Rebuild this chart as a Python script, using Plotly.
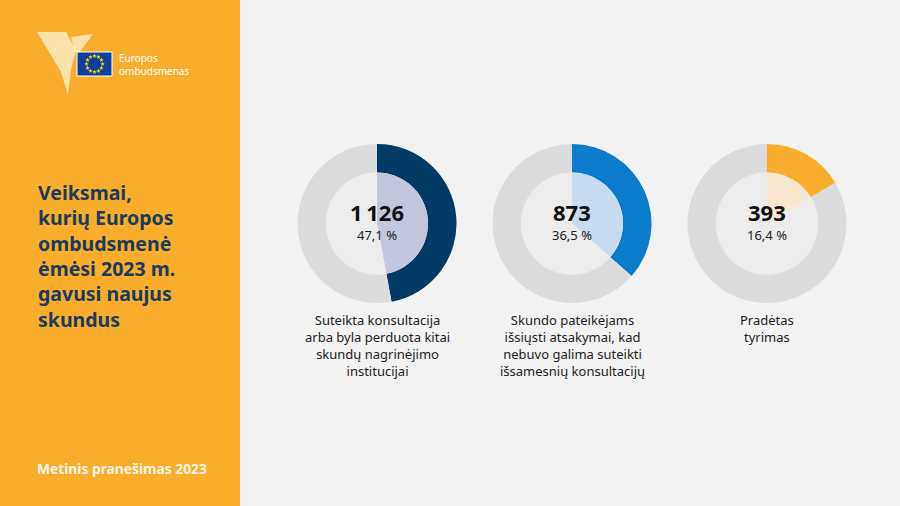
import plotly.graph_objects as go
import math

# ---- data ----
counts = [1126, 873, 393]
count_labels = ["1\u2009126", "873", "393"]
pct_labels = ["47,1 %", "36,5 %", "16,4 %"]
categories = [
    "Suteikta konsultacija<br>arba byla perduota kitai<br>skundų nagrinėjimo<br>institucijai",
    "Skundo pateikėjams<br>išsiųsti atsakymai, kad<br>nebuvo galima suteikti<br>išsamesnių konsultacijų",
    "Pradėtas<br>tyrimas",
]
title_text = "Veiksmai,<br>kurių Europos<br>ombudsmenė<br>ėmėsi 2023 m.<br>gavusi naujus<br>skundus"
footer_text = "Metinis pranešimas 2023"

# ---- styles ----
W, H = 900, 506
ORANGE = "#f8ae2c"
NAVY = "#1b3a5c"
main_colors = ["#013a65", "#0a7ccb", "#f8ae2c"]
light_colors = ["#c3c7db", "#c9dbee", "#f8e7d0"]
RING = "#dcdcdc"
HOLE = "#ececec"
BG = "#f2f2f2"
centers_x = [377, 572, 767]
center_y = 223.5
R_OUT = 79.5
R_IN = 51
FONT = "Noto Sans"

total = sum(counts)

def dom(cx, cy, r):
    return dict(x=[(cx - r) / W, (cx + r) / W], y=[1 - (cy + r) / H, 1 - (cy - r) / H])

fig = go.Figure()
for i, c in enumerate(counts):
    fig.add_trace(go.Pie(
        values=[c, total - c], sort=False, direction="clockwise", rotation=0,
        marker=dict(colors=[main_colors[i], RING], line=dict(width=0)),
        hole=R_IN / R_OUT, textinfo="none", hoverinfo="skip", showlegend=False,
        domain=dom(centers_x[i], center_y, R_OUT),
    ))
    fig.add_trace(go.Pie(
        values=[c, total - c], sort=False, direction="clockwise", rotation=0,
        marker=dict(colors=[light_colors[i], HOLE], line=dict(width=0)),
        textinfo="none", hoverinfo="skip", showlegend=False,
        domain=dom(centers_x[i], center_y, R_IN),
    ))

# hidden pixel axes for decoration
fig.update_xaxes(range=[0, W], visible=False, fixedrange=True)
fig.update_yaxes(range=[H, 0], visible=False, fixedrange=True)

# EU flag stars
sx = [94.5 + 8 * math.cos(2 * math.pi * k / 12) for k in range(12)]
sy = [64 + 8 * math.sin(2 * math.pi * k / 12) for k in range(12)]
fig.add_trace(go.Scatter(x=sx, y=sy, mode="markers", hoverinfo="skip", showlegend=False,
                         marker=dict(symbol="star", size=3.5, color="#ffdd00", line=dict(width=0))))

shapes = [
    dict(type="rect", xref="x", yref="y", x0=0, x1=240, y0=0, y1=H, fillcolor=ORANGE, line=dict(width=0), layer="below"),
    dict(type="path", xref="x", yref="y", path="M 37 32 L 66 32 L 76 50 L 71 70 L 68 95 L 61 72 Z",
         fillcolor="rgba(255,243,215,0.75)", line=dict(width=0), layer="below"),
    dict(type="path", xref="x", yref="y", path="M 71 37 L 93 34 L 80 52 L 75 52 Z",
         fillcolor="rgba(255,243,215,0.75)", line=dict(width=0), layer="below"),
    dict(type="rect", xref="x", yref="y", x0=77, x1=112, y0=52, y1=76, fillcolor="#0f3f9e", line=dict(color="#ffffff", width=1), layer="below"),
]

annotations = [
    dict(text="Europos<br>ombudsmenas", x=117, y=64, xref="x", yref="y", xanchor="left", yanchor="middle",
         showarrow=False, align="left", font=dict(family=FONT, size=10, color="#ffffff")),
    dict(text="<b>" + title_text + "</b>", x=36, y=177, xref="x", yref="y", xanchor="left", yanchor="top",
         showarrow=False, align="left", font=dict(family=FONT, size=19.5, color=NAVY)),
    dict(text="<b>" + footer_text + "</b>", x=35, y=468, xref="x", yref="y", xanchor="left", yanchor="middle",
         showarrow=False, align="left", font=dict(family=FONT, size=13.8, color="#fff6e6")),
]
for i in range(3):
    annotations.append(dict(text="<b>" + count_labels[i] + "</b>", x=centers_x[i], y=212, xref="x", yref="y",
                            showarrow=False, font=dict(family=FONT, size=22, color="#111111")))
    annotations.append(dict(text=pct_labels[i], x=centers_x[i], y=235, xref="x", yref="y",
                            showarrow=False, font=dict(family=FONT, size=13, color="#222222")))
    annotations.append(dict(text=categories[i], x=centers_x[i], y=309, xref="x", yref="y", yanchor="top",
                            showarrow=False, align="center", font=dict(family=FONT, size=13, color="#222222")))

fig.update_layout(
    width=W, height=H, margin=dict(l=0, r=0, t=0, b=0),
    paper_bgcolor=BG, plot_bgcolor="rgba(0,0,0,0)",
    shapes=shapes, annotations=annotations,
)
fig.write_html("out.html", config={"displayModeBar": False},
               post_script="document.body.style.margin='0';")
